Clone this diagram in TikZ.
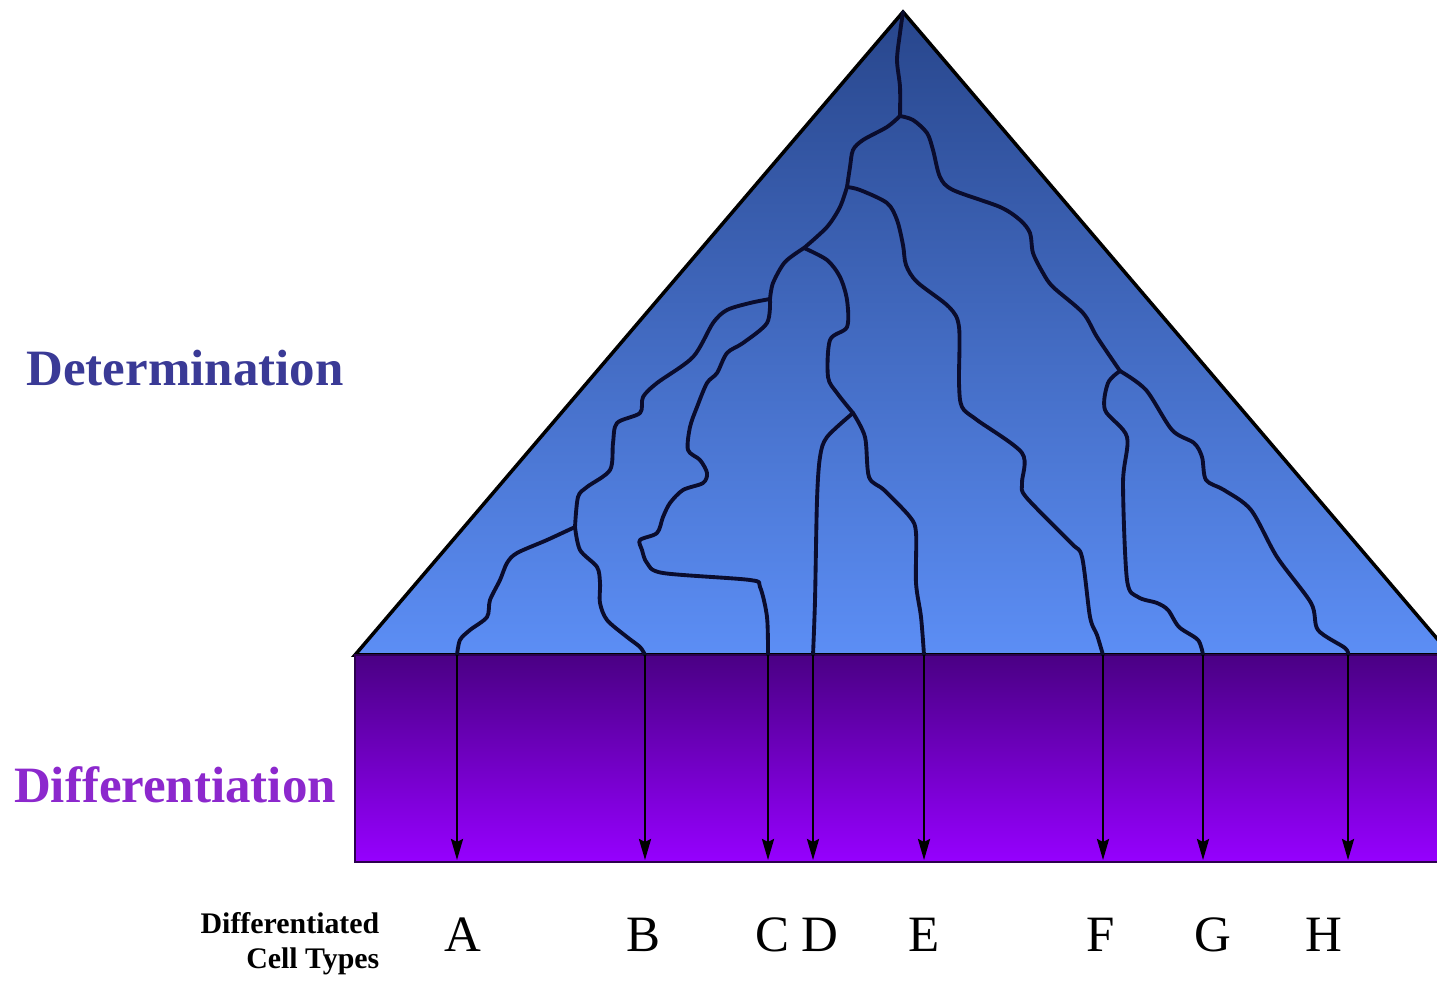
\documentclass[tikz,border=0pt]{standalone}
\usepackage{fontspec}
\setmainfont{Liberation Serif}
\usepackage{tikz}
\usetikzlibrary{arrows.meta, positioning}

\definecolor{detblue}{RGB}{58,58,150}
\definecolor{difpurple}{RGB}{140,40,205}
\definecolor{tritop}{RGB}{40,70,140}
\definecolor{tribot}{RGB}{92,142,245}
\definecolor{recttop}{RGB}{74,0,132}
\definecolor{rectbot}{RGB}{150,0,255}
\definecolor{branchcol}{RGB}{10,12,45}

\begin{document}
\begin{tikzpicture}[
        x=0.1mm, y=-0.1mm,
        % Global Styles
        cone/.style={draw=black, line width=1pt, top color=tritop, bottom color=tribot},
        band/.style={draw=recttop!60!black, line width=0.8pt, top color=recttop, bottom color=rectbot},
        branch/.style={draw=branchcol, line width=1.1pt, line join=round, line cap=round},
        cellarrow/.style={draw=black, line width=0.7pt, -{Stealth[length=2.1mm, width=1.2mm, inset=0.3mm]}},
        stage/.style={font=\fontsize{14.5}{17}\selectfont\bfseries, anchor=center},
        letter/.style={font=\fontsize{14.5}{17}\selectfont, anchor=center},
        caption/.style={font=\fontsize{8.5}{10}\selectfont\bfseries, align=right, anchor=east, inner sep=0pt}
    ]

    \clip (0,0) rectangle (1437,981);
    \fill[white] (0,0) rectangle (1437,981);

    % --- Shapes ---
    \path[cone] (903,12) -- (1451,655) -- (355,655) -- cycle;
    \path[band] (355,655) rectangle (1460,862);

    % --- Branch points ---
    \coordinate (apex) at (903,12);
    \coordinate (N1) at (900,116);
    \coordinate (N2) at (847,187);
    \coordinate (N3) at (1120,371);
    \coordinate (N4) at (804,248);
    \coordinate (N5) at (853,413);
    \coordinate (N6) at (575,527);
    \coordinate (N7) at (770,299);

    % --- Cell types: base point, tip, label ---
    \foreach \n/\x/\lx in {A/457/463, B/645/643, C/768/772, D/813/820,
                           E/924/924, F/1103/1101, G/1203/1213, H/1348/1324} {
      \coordinate (b\n) at (\x,655);
      \coordinate (t\n) at (\x,860);
      \node[letter] (l\n) at (\lx,935) {\n};
    }

    % --- Lineage tree ---
    \draw[branch] plot[smooth, tension=0.5] coordinates {(apex) (900,33) (897,60) (900,87) (N1)};
    \draw[branch] plot[smooth, tension=0.5] coordinates {(N1) (887,127) (863,140) (853,150) (850,167) (N2)};
    \draw[branch] plot[smooth, tension=0.5] coordinates {(N1) (913,120) (927,133) (933,150) (940,177) (953,190)
        (1000,207) (1020,220) (1030,233) (1033,253) (1043,273) (1053,287) (1083,313) (1097,337) (N3)};
    \draw[branch] plot[smooth, tension=0.5] coordinates {(N2) (860,190) (887,203) (897,220) (903,245) (906,265)
        (917,282) (949,307) (959,327) (959,383) (962,407) (977,420) (1022,453) (1022,483) (1026,497)
        (1071,543) (1082,557) (1090,617) (1097,635) (bF)};
    \draw[branch] plot[smooth, tension=0.5] coordinates {(N2) (840,207) (827,227) (N4)};
    \draw[branch] plot[smooth, tension=0.5] coordinates {(N4) (827,260) (840,277) (847,300) (847,327) (830,340)
        (828,377) (837,393) (N5)};
    \draw[branch] plot[smooth, tension=0.5] coordinates {(N5) (827,437) (820,457) (817,500) (815,600) (bD)};
    \draw[branch] plot[smooth, tension=0.5] coordinates {(N5) (865,437) (869,477) (884,490) (910,517) (916,533)
        (916,583) (921,617) (bE)};
    \draw[branch] plot[smooth, tension=0.5] coordinates {(N4) (785,262) (773,283) (N7)};
    \draw[branch] plot[smooth, tension=0.5] coordinates {(N7) (750,303) (727,310) (713,323) (693,357) (657,383)
        (643,397) (640,413) (617,423) (613,443) (610,470) (587,487) (578,497) (N6)};
    \draw[branch] plot[smooth, tension=0.5] coordinates {(N7) (767,323) (743,343) (727,353) (717,373) (707,383)
        (697,407) (690,427) (688,450) (700,460) (707,473) (703,483) (683,490) (670,503) (663,517)
        (657,533) (640,540) (642,550) (647,563) (663,573) (750,580) (760,587) (767,617) (bC)};
    \draw[branch] plot[smooth, tension=0.5] coordinates {(N6) (547,540) (517,553) (507,563) (500,580) (490,600)
        (487,617) (470,630) (460,640) (bA)};
    \draw[branch] plot[smooth, tension=0.5] coordinates {(N6) (580,550) (597,567) (600,583) (600,603) (607,620)
        (627,637) (640,647) (bB)};
    \draw[branch] plot[smooth, tension=0.5] coordinates {(N3) (1108,383) (1105,410) (1127,437) (1123,483)
        (1127,580) (1138,597) (1157,603) (1168,610) (1179,627) (1198,640) (bG)};
    \draw[branch] plot[smooth, tension=0.5] coordinates {(N3) (1146,390) (1172,430) (1194,443) (1202,457)
        (1206,480) (1224,490) (1251,510) (1277,557) (1311,603) (1318,630) (1345,648) (bH)};

    % --- Differentiation arrows ---
    \foreach \n in {A,B,C,D,E,F,G,H}
      \draw[cellarrow] (b\n) -- (t\n);

    % --- Stage labels ---
    \node[stage, text=detblue] (det) at (185,368) {Determination};
    \node[stage, text=difpurple] (dif) at (175,785) {Differentiation};
    \node[caption] (types) at (380,944) {Differentiated\\Cell Types};

\end{tikzpicture}
\end{document}
